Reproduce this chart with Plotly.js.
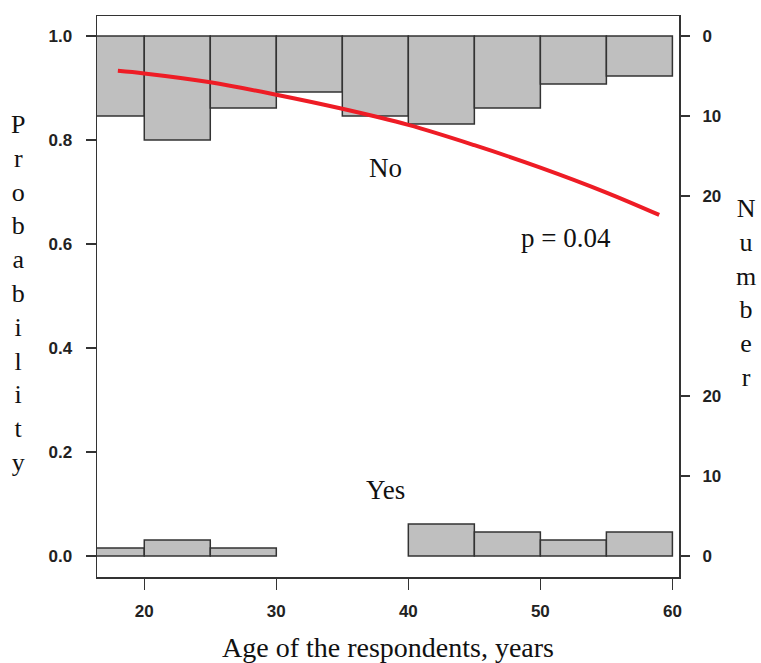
<!DOCTYPE html>
<html>
<head>
<meta charset="utf-8">
<script src="https://cdn.plot.ly/plotly-3.0.1.min.js"></script>
<style>html,body{margin:0;padding:0;background:#fff;}#chart{width:761px;height:663px;}</style>
</head>
<body>
<div id="chart"></div>
<script>
// Histogram bins (age, years)
const binCenters = [17.5, 22.5, 27.5, 32.5, 37.5, 42.5, 47.5, 52.5, 57.5];
const noCounts = [10, 13, 9, 7, 10, 11, 9, 6, 5];
const yesCounts = [1, 2, 1, 0, 0, 4, 3, 2, 3];
// Fitted probability curve
const curveAge = [18, 20, 25, 30, 35, 40, 45, 50, 55, 59];
const curveProb = [0.933, 0.928, 0.911, 0.887, 0.860, 0.829, 0.790, 0.747, 0.699, 0.656];
// Axis labels
const xTicks = [20, 30, 40, 50, 60];
const probTicks = [0, 0.2, 0.4, 0.6, 0.8, 1.0];
const numberTicksTop = [0, 10, 20];
const numberTicksBottom = [20, 10, 0];

const k = 0.2 / 13; // probability units per count
const serif = '"Liberation Serif", "Times New Roman", serif';
const sans = '"Liberation Sans", Arial, sans-serif';
const dark = '#222';
const tickFont = {family: sans, size: 17, color: dark, weight: 'bold'};

const rightVals = numberTicksTop.map(c => 1 - c * k).concat(numberTicksBottom.map(c => c * k));
const rightText = numberTicksTop.concat(numberTicksBottom).map(String);

const traces = [
  {
    type: 'bar', x: binCenters, y: noCounts.map(c => -c * k), base: 1, width: 5,
    marker: {color: '#bfbfbf', line: {color: '#333', width: 1.5}}, showlegend: false
  },
  {
    type: 'bar', x: binCenters, y: yesCounts.map(c => c === 0 ? null : c * k), base: 0, width: 5,
    marker: {color: '#bfbfbf', line: {color: '#333', width: 1.5}}, showlegend: false
  },
  {
    type: 'scatter', mode: 'lines', x: curveAge, y: curveProb,
    line: {color: '#ee1c25', width: 4, shape: 'spline'}, showlegend: false
  },
  {
    type: 'scatter', mode: 'markers', x: [40], y: [0.5], yaxis: 'y2',
    marker: {opacity: 0}, showlegend: false, hoverinfo: 'skip'
  }
];

const yRange = [-0.0404, 1.0385];

const layout = {
  width: 761, height: 663,
  margin: {l: 97, r: 82, t: 16, b: 86},
  paper_bgcolor: '#fff', plot_bgcolor: '#fff',
  barmode: 'overlay',
  showlegend: false,
  xaxis: {
    range: [16.42, 60.5], tickvals: xTicks, ticks: 'outside', ticklen: 11, tickwidth: 1.5,
    tickcolor: '#333', showline: true, mirror: true, linecolor: '#333', linewidth: 1.5,
    showgrid: false, zeroline: false, ticklabelstandoff: 7,
    tickfont: tickFont,
    title: {text: 'Age of the respondents, years', font: {family: serif, size: 28, color: '#111'}, standoff: 18}
  },
  yaxis: {
    range: yRange, tickvals: probTicks, tickformat: '.1f', ticks: 'outside', ticklen: 10, tickwidth: 1.5,
    tickcolor: '#333', showline: true, mirror: true, linecolor: '#333', linewidth: 1.5,
    showgrid: false, zeroline: false, ticklabelstandoff: 10,
    tickfont: tickFont
  },
  yaxis2: {
    overlaying: 'y', side: 'right', range: yRange, tickvals: rightVals, ticktext: rightText,
    ticks: 'outside', ticklen: 10, tickwidth: 1.5, tickcolor: '#333', showline: false,
    showgrid: false, zeroline: false, ticklabelstandoff: 9,
    tickfont: tickFont
  },
  annotations: [
    {x: 38.3, y: 0.746, xref: 'x', yref: 'y', text: 'No', showarrow: false, font: {family: serif, size: 27, color: '#111'}},
    {x: 51.95, y: 0.612, xref: 'x', yref: 'y', text: 'p = 0.04', showarrow: false, font: {family: serif, size: 27, color: '#111'}},
    {x: 38.3, y: 0.127, xref: 'x', yref: 'y', text: 'Yes', showarrow: false, font: {family: serif, size: 27, color: '#111'}},
    {x: 0, y: 0, xref: 'paper', yref: 'paper', xanchor: 'center', yanchor: 'middle',
     text: 'P<br>r<br>o<br>b<br>a<br>b<br>i<br>l<br>i<br>t<br>y',
     showarrow: false, font: {family: serif, size: 26, color: '#111'}},
    {x: 0, y: 0, xref: 'paper', yref: 'paper', xanchor: 'center', yanchor: 'middle',
     text: 'N<br>u<br>m<br>b<br>e<br>r',
     showarrow: false, font: {family: serif, size: 26, color: '#111'}}
  ]
};

// Convert pixel positions for the vertical titles into paper coordinates
const pw = 761 - 97 - 82, ph = 663 - 16 - 86;
layout.annotations[3].x = (18 - 97) / pw; layout.annotations[3].y = (663 - 86 - 294) / ph;
layout.annotations[4].x = (746 - 97) / pw; layout.annotations[4].y = (663 - 86 - 293) / ph;

Plotly.newPlot('chart', traces, layout, {staticPlot: true, displayModeBar: false});
</script>
</body>
</html>
